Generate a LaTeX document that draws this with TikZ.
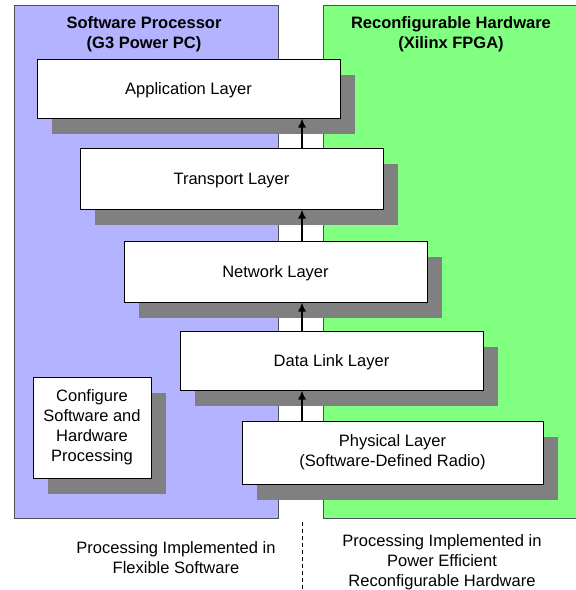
\documentclass[tikz,border=0pt]{standalone}
\usepackage{fontspec}
\setmainfont{Liberation Sans}
\usetikzlibrary{shadows,arrows.meta}
\definecolor{swblue}{RGB}{179,179,255}
\definecolor{hwgreen}{RGB}{128,255,128}
\definecolor{shadowgray}{RGB}{128,128,128}
\definecolor{panelline}{RGB}{80,80,90}

\begin{document}
\begin{tikzpicture}[x=1pt,y=-1pt,
  panel/.style={draw=panelline, line width=0.8pt},
  txt/.style={align=center, inner sep=0pt, font=\fontsize{16.5}{20}\selectfont},
  head/.style={txt, font=\fontsize{16.5}{20}\selectfont\bfseries},
  layer/.style={txt, draw=black, line width=1pt, fill=white,
    minimum width=303pt, minimum height=60pt,
    drop shadow={shadow xshift=15pt, shadow yshift=-16pt, fill=shadowgray, opacity=1}},
  oneline/.style={text height=12pt, text depth=0pt},
  flow/.style={-{Latex[length=9pt,width=8pt]}, line width=1.6pt},
  divider/.style={line width=0.9pt, dash pattern=on 4pt off 3pt}
]
\useasboundingbox (0,0) rectangle (576,590);

% processor panels
\draw[panel, fill=swblue] (14,5) rectangle (278,518);
\draw[panel, fill=hwgreen] (323,5) rectangle (590,518);

\node[head] (swtitle) at (144,34) {Software Processor\\(G3 Power PC)};
\node[head] (hwtitle) at (451,34) {Reconfigurable Hardware\\(Xilinx FPGA)};

% protocol stack
\node[layer, oneline, minimum height=59pt] (app) at (188.5,88.5) {Application Layer};
\node[layer, oneline, minimum height=61pt] (tra) at (231.5,178.5) {Transport Layer};
\node[layer, oneline, minimum height=61pt] (net) at (275.5,271.5) {Network Layer};
\node[layer, oneline, minimum height=59pt] (dl)  at (331.5,360.5) {Data Link Layer};
\node[layer, minimum width=301pt, minimum height=63pt] (phy) at (392.5,452.5)
  {Physical Layer\\(Software-Defined Radio)};

\node[layer, minimum width=118pt, minimum height=101pt] (cfg) at (92,427.5)
  {Configure\\Software and\\Hardware\\Processing};

% upward data flow
\coordinate (ax) at (302,0);
\draw[flow] (phy.north -| ax) -- (dl.south -| ax);
\draw[flow] (dl.north -| ax) -- (net.south -| ax);
\draw[flow] (net.north -| ax) -- (tra.south -| ax);
\draw[flow] (tra.north -| ax) -- (app.south -| ax);

% captions and divider
\coordinate (dtop) at (302,522);
\coordinate (dbot) at (302,590);
\draw[divider] (dtop) -- (dbot);

\node[txt] (swcap) at (176,558) {Processing Implemented in\\Flexible Software};
\node[txt] (hwcap) at (442,562) {Processing Implemented in\\Power Efficient\\Reconfigurable Hardware};
\end{tikzpicture}
\end{document}
